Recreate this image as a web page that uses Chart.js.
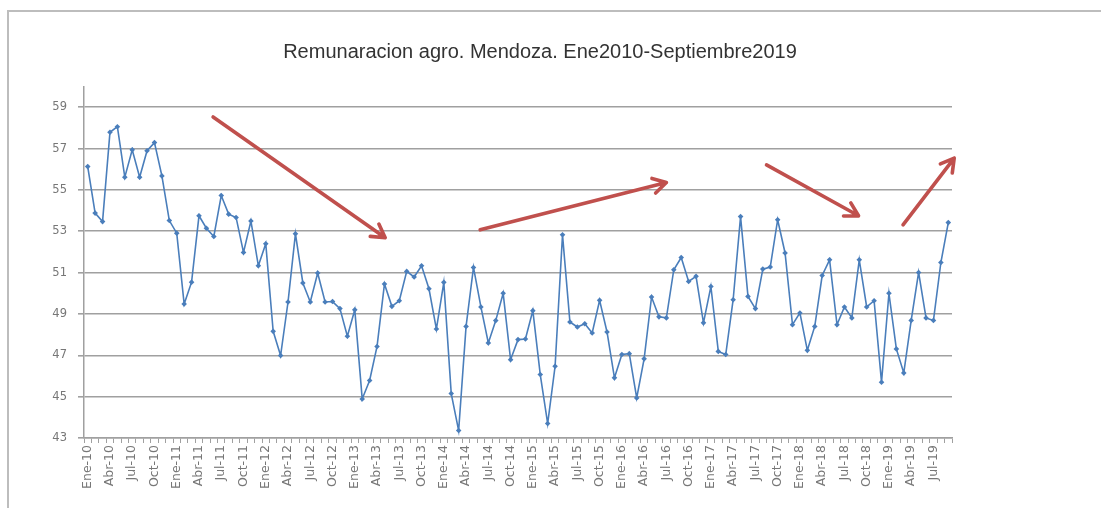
<!DOCTYPE html>
<html>
<head>
<meta charset="utf-8">
<script src="https://cdn.jsdelivr.net/npm/chart.js@4/dist/chart.umd.min.js"></script>
<style>
  html, body { margin: 0; padding: 0; background: #fff; }
  #wrap { position: relative; width: 1101px; height: 508px; overflow: hidden; }
  #frame { position: absolute; left: 7px; top: 10px; width: 1200px; height: 600px;
           border-top: 2px solid #bdbdbd; border-left: 2px solid #bdbdbd; box-sizing: border-box; }
  canvas { position: absolute; left: 0; top: 0; }
</style>
</head>
<body>
<div id="wrap">
  <div id="frame"></div>
  <canvas id="c" width="1101" height="508"></canvas>
</div>
<script>
// ---- data ----
const monthNames = ["Ene","Feb","Mar","Abr","May","Jun","Jul","Ago","Sep","Oct","Nov","Dic"];
const years = [10, 11, 12, 13, 14, 15, 16, 17, 18, 19];
const remuneracion = [
  56.13, 53.88, 53.47, 57.79, 58.06, 55.62, 56.94, 55.62, 56.90, 57.29, 55.68, 53.52,
  52.91, 49.48, 50.54, 53.75, 53.15, 52.75, 54.73, 53.83, 53.67, 51.98, 53.50, 51.33,
  52.40, 48.16, 46.99, 49.58, 52.88, 50.50, 49.58, 50.98, 49.58, 49.60, 49.26, 47.92,
  49.20, 44.89, 45.78, 47.43, 50.45, 49.37, 49.64, 51.06, 50.79, 51.33, 50.22, 48.27,
  50.53, 45.15, 43.36, 48.40, 51.25, 49.34, 47.60, 48.68, 50.00, 46.79, 47.76, 47.79,
  49.16, 46.07, 43.70, 46.47, 52.83, 48.61, 48.37, 48.53, 48.08, 49.66, 48.13, 45.91,
  47.04, 47.08, 44.94, 46.83, 49.82, 48.86, 48.81, 51.14, 51.73, 50.57, 50.82, 48.57,
  50.33, 47.19, 47.04, 49.69, 53.71, 49.85, 49.26, 51.17, 51.27, 53.56, 51.95, 48.48,
  49.05, 47.24, 48.40, 50.86, 51.62, 48.48, 49.34, 48.81, 51.62, 49.34, 49.64, 45.70,
  50.00, 47.31, 46.15, 48.69, 51.01, 48.81, 48.69, 51.49, 53.42
];
const yTicks = [43, 45, 47, 49, 51, 53, 55, 57, 59];
// trend arrows: [startIndex, startValue] -> [endIndex, endValue]
const arrowStarts = [[16.9, 58.53], [52.9, 53.07], [91.5, 56.21], [109.9, 53.31]];
const arrowEnds   = [[40.1, 52.69], [78.0, 55.36], [103.9, 53.75], [116.8, 56.54]];
const titleText = "Remunaracion agro. Mendoza. Ene2010-Septiembre2019";

const categories = [];
for (const y of years) for (const m of monthNames) categories.push(m + "-" + y);
categories.length = remuneracion.length;

const arrowPlugin = {
  id: 'arrows',
  afterDatasetsDraw(chart) {
    const ctx = chart.ctx, xs = chart.scales.x, ys = chart.scales.y;
    ctx.save();
    ctx.strokeStyle = '#c0504d';
    ctx.lineWidth = 3.6;
    ctx.lineCap = 'round';
    ctx.lineJoin = 'round';
    for (let i = 0; i < arrowStarts.length; i++) {
      const x1 = xs.getPixelForValue(arrowStarts[i][0]), y1 = ys.getPixelForValue(arrowStarts[i][1]);
      const x2 = xs.getPixelForValue(arrowEnds[i][0]), y2 = ys.getPixelForValue(arrowEnds[i][1]);
      const a = Math.atan2(y2 - y1, x2 - x1), L = 15, w = Math.PI / 6;
      ctx.beginPath();
      ctx.moveTo(x1, y1); ctx.lineTo(x2, y2);
      ctx.moveTo(x2 - L * Math.cos(a - w), y2 - L * Math.sin(a - w));
      ctx.lineTo(x2, y2);
      ctx.lineTo(x2 - L * Math.cos(a + w), y2 - L * Math.sin(a + w));
      ctx.stroke();
    }
    ctx.restore();
  }
};

new Chart(document.getElementById('c'), {
  type: 'line',
  data: {
    labels: categories,
    datasets: [{
      data: remuneracion,
      borderColor: '#4a7ebb',
      backgroundColor: '#4a7ebb',
      borderWidth: 1.6,
      pointStyle: 'rectRot',
      pointRadius: 2.8,
      pointBorderWidth: 0,
      tension: 0,
      fill: false
    }]
  },
  options: {
    responsive: false,
    animation: false,
    devicePixelRatio: 1,
    layout: { padding: { left: 0, right: 21, top: 0, bottom: 0 } },
    plugins: {
      legend: { display: false },
      tooltip: { enabled: false },
      title: {
        display: true,
        text: titleText,
        color: '#333',
        font: { family: 'Liberation Sans', size: 20, weight: 'normal' },
        padding: { top: 40, bottom: 22.6 }
      }
    },
    scales: {
      x: {
        type: 'category',
        offset: true,
        afterFit(scale) { scale.height = 70; },
        border: { display: true, color: '#a0a0a0', width: 1.5 },
        grid: { display: true, drawOnChartArea: false, drawTicks: true, tickLength: 5, offset: true, color: '#a0a0a0', lineWidth: 1 },
        ticks: {
          autoSkip: false,
          maxRotation: 90,
          minRotation: 90,
          padding: 2,
          color: '#777',
          font: { family: 'DejaVu Sans', size: 12.5 },
          callback(v, i) { return i % 3 === 0 ? categories[i] : ''; }
        }
      },
      y: {
        min: 43,
        max: 60,
        afterFit(scale) { scale.width = 84; },
        afterBuildTicks(scale) { scale.ticks = yTicks.map(v => ({ value: v })); },
        border: { display: true, color: '#a0a0a0', width: 1.5 },
        grid: { color: '#a0a0a0', lineWidth: 1.6, drawTicks: true, tickLength: 6 },
        ticks: {
          padding: 11,
          color: '#777',
          font: { family: 'DejaVu Sans', size: 11.5 }
        }
      },
      yRightSpace: {
        position: 'right',
        display: true,
        afterFit(scale) { scale.width = 128; },
        border: { display: false },
        grid: { display: false, drawTicks: false },
        ticks: { display: false }
      }
    }
  },
  plugins: [arrowPlugin]
});
</script>
</body>
</html>
